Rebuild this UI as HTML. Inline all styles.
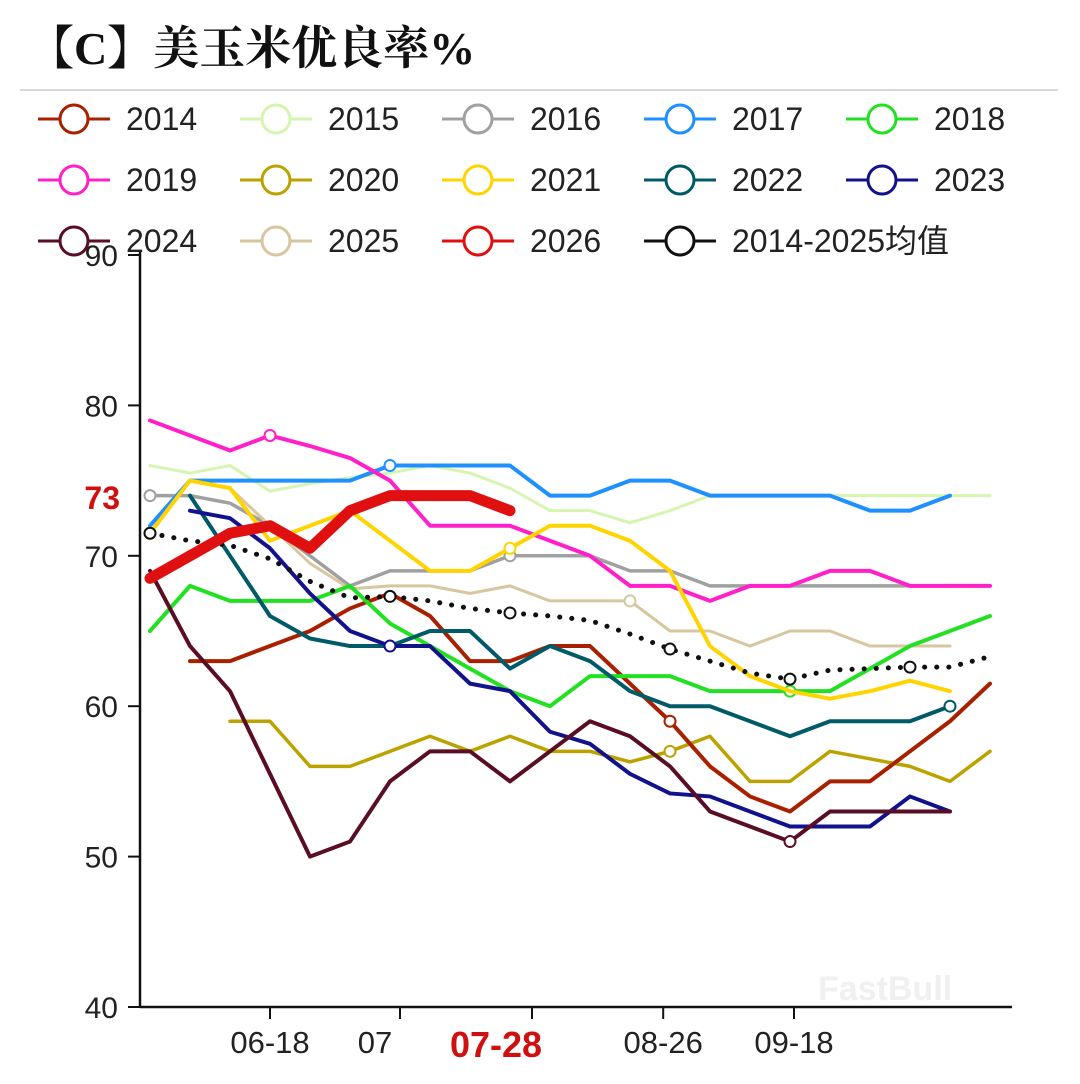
<!DOCTYPE html>
<html><head><meta charset="utf-8">
<style>
html,body{margin:0;padding:0;background:#fff;}
body{width:1080px;height:1079px;overflow:hidden;position:relative;font-family:"Liberation Sans","Noto Sans CJK SC",sans-serif;}
</style></head>
<body>
<svg id="chart" width="1080" height="1079" viewBox="0 0 1080 1079" xmlns="http://www.w3.org/2000/svg">
<text x="28" y="64" font-family="'Liberation Serif','Noto Serif CJK SC',serif" font-weight="bold" font-size="46" fill="#111">【C】美玉米优良率%</text>
<line x1="20" y1="90" x2="1058" y2="90" stroke="#ccc" stroke-width="1.5"/>
<g id="legend"></g>
<g id="axes"></g>
<g id="series"></g>
<text x="818" y="1000" font-size="34" font-weight="bold" fill="#f0f0f0">FastBull</text>
</svg>
<script>
const NS='http://www.w3.org/2000/svg';
const yTicks=[40,50,60,70,80,90];
const xLabels=['06-18','07','07-28','08-26','09-18'];
const xLabelIdx=[3,6.25,9.55,12.83,16.1];
const years=['2014','2015','2016','2017','2018','2019','2020','2021','2022','2023','2024','2025','2026','2014-2025均值'];
const colors=['#a82000','#d6f5b0','#a0a0a0','#1e90ff','#22e022','#ff20c8','#bca200','#ffd400','#005a68','#12128c','#5a0e24','#d8c6a0','#e01010','#111'];
const s2014=[null,63,63,64,65,66.5,67.5,66,63,63,64,64,61.5,59,56,54,53,55,55,57,59,61.5];
const s2015=[76,75.5,76,74.3,74.8,75.2,75.5,76,75.5,74.5,73,73,72.2,73,74,74,74,74,74,74,74,74];
const s2016=[74,74,73.5,72,70,68,69,69,69,70,70,70,69,69,68,68,68,68,68,68,68];
const s2017=[72,75,75,75,75,75,76,76,76,76,74,74,75,75,74,74,74,74,73,73,74];
const s2018=[65,68,67,67,67,68,65.5,64,62.5,61,60,62,62,62,61,61,61,61,62.5,64,65,66];
const s2019=[79,78,77,78,77.3,76.5,75,72,72,72,71,70,68,68,67,68,68,69,69,68,68,68];
const s2020=[null,null,59,59,56,56,57,58,57,58,57,57,56.3,57,58,55,55,57,56.5,56,55,57];
const s2021=[71.5,75,74.5,71,72,73,71,69,69,70.5,72,72,71,69,64,62,61,60.5,61,61.7,61];
const s2022=[null,74,70,66,64.5,64,64,65,65,62.5,64,63,61,60,60,59,58,59,59,59,60];
const s2023=[null,73,72.5,70.5,67.5,65,64,64,61.5,61,58.3,57.5,55.5,54.2,54,53,52,52,52,54,53];
const s2024=[69,64,61,55.5,50,51,55,57,57,55,57,59,58,56,53,52,51,53,53,53,53];
const s2025=[null,75,74.5,72,69.5,67.8,68,68,67.5,68,67,67,67,65,65,64,65,65,64,64,64];
const s2026=[68.5,70,71.5,72,70.5,73,74,74,74,73];
const sAvg=[71.5,71,70.7,69.8,68.3,67.2,67.3,67,66.5,66.2,66,65.7,64.8,63.8,63,62.2,61.8,62.4,62.5,62.6,62.6,63.3];
const seriesData=[s2014,s2015,s2016,s2017,s2018,s2019,s2020,s2021,s2022,s2023,s2024,s2025,s2026,sAvg];
const markerIdx=[[13],[],[0,9],[6],[16],[3],[13],[0,9],[20],[6],[16],[12],[],[0,6,9,13,16,19]];
const widths=[4,3,3.5,4,4,4,3.5,4,4,4,4,3,11,0];
const drawOrder=[1,2,11,6,0,4,8,9,10,3,5,7,13,12];

function X(i){return 150+40*i;}
function Y(v){return 255+(90-v)*15.04;}
function mk(tag,attrs,parent){const e=document.createElementNS(NS,tag);for(const k in attrs)e.setAttribute(k,attrs[k]);parent.appendChild(e);return e;}

const axes=document.getElementById('axes');
let ax=mk('line',{x1:140,y1:252,x2:140,y2:1007,stroke:'#111','stroke-width':2.5},axes);


let bx=mk('line',{x1:140,y1:1007,x2:1012,y2:1007,stroke:'#111','stroke-width':2.5},axes);


yTicks.forEach(t=>{
  const tk=mk('line',{x1:128,y1:Y(t),x2:140,y2:Y(t),stroke:'#111','stroke-width':2},axes);
  
  
  const tx=mk('text',{x:118,y:Y(t)+11,'text-anchor':'end','font-size':30,fill:'#222'},axes);
  tx.textContent=t;
  
  
});
const lab=mk('text',{x:120,y:509,'text-anchor':'end','font-size':32,'font-weight':'bold',fill:'#d01010'},axes);
lab.textContent='73';


xLabels.forEach((l,k)=>{
  const x=X(xLabelIdx[k]);
  const tk=mk('line',{x1:x,y1:1007,x2:x,y2:1019,stroke:'#111','stroke-width':2},axes);
  
  
  const red=l==='07-28';
  const tx=mk('text',{x:red?x-36:(l==='07'?x-25:x),y:red?1057:1053,'text-anchor':'middle','font-size':red?36:31,'font-weight':red?'bold':'normal',fill:red?'#d01010':'#222'},axes);
  tx.textContent=l;
  
  
});

const sg=document.getElementById('series');
drawOrder.forEach(k=>{
  const d=seriesData[k];
  const pts=[];
  d.forEach((v,i)=>{if(v!==null)pts.push(X(i)+','+Y(v));});
  const isAvg=k===13;
  const p=mk('polyline',{points:pts.join(' '),fill:'none',stroke:colors[k],'stroke-width':isAvg?5:widths[k],'stroke-linejoin':'round','stroke-linecap':'round'},sg);
  if(isAvg){p.setAttribute('stroke-dasharray','0.1 12');}
  
  
  markerIdx[k].forEach(i=>{
    if(d[i]===null||d[i]===undefined)return;
    const c=mk('circle',{cx:X(i),cy:Y(d[i]),r:5.5,fill:'#fff',stroke:colors[k],'stroke-width':2},sg);
    
    
  });
});

const lg=document.getElementById('legend');
years.forEach((y,k)=>{
  const col=k%5,row=Math.floor(k/5);
  const x0=38+col*202,cy=119+row*61;
  const g=mk('g',{},lg);
  
  
  mk('line',{x1:x0,y1:cy,x2:x0+72,y2:cy,stroke:colors[k],'stroke-width':3},g);
  mk('circle',{cx:x0+36,cy:cy,r:14,fill:'#fff',stroke:colors[k],'stroke-width':3},g);
  const t=mk('text',{x:x0+88,y:cy+11,'font-size':32,fill:'#222'},g);
  t.textContent=y;
});
</script>
</body></html>
